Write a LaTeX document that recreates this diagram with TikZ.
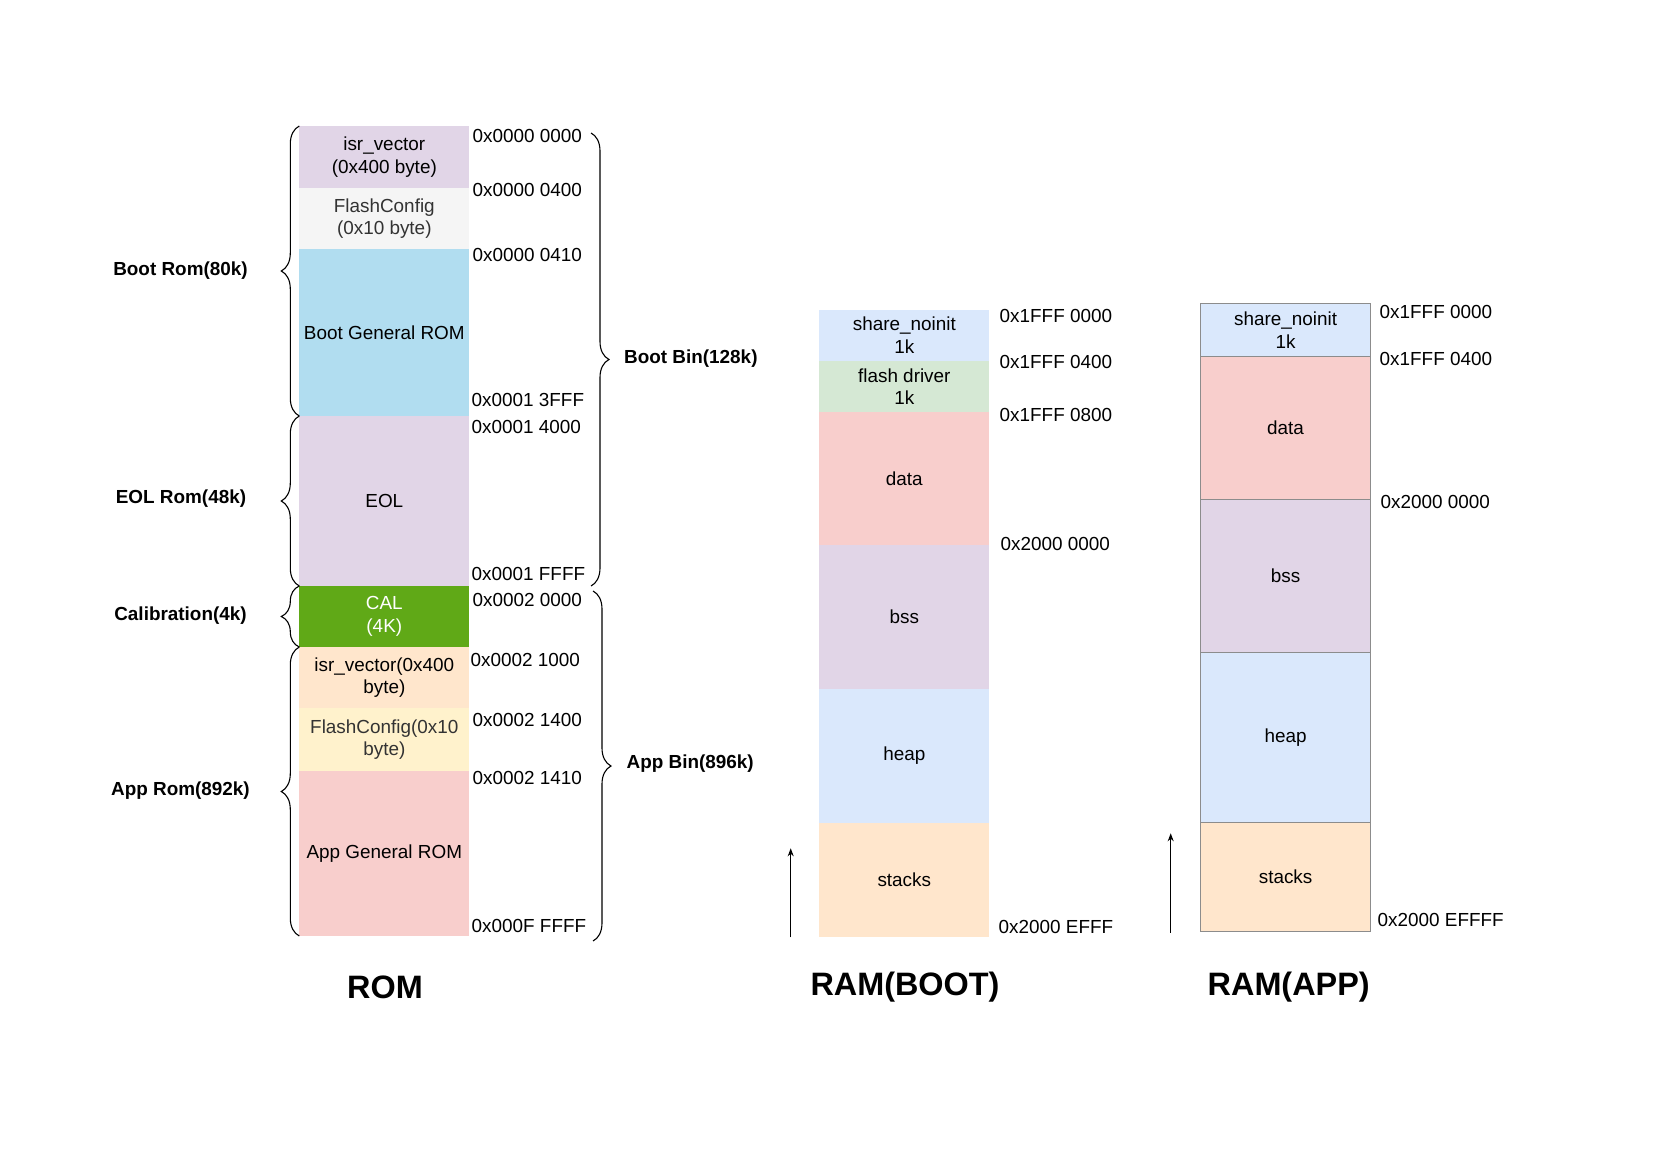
\documentclass[tikz,border=0pt]{standalone}
\usepackage{fontspec}
\setmainfont{Liberation Sans}
\usepackage{xcolor}
\definecolor{cPurple}{HTML}{E1D5E7}
\definecolor{cGray}{HTML}{F5F5F5}
\definecolor{cBlue}{HTML}{B1DDF0}
\definecolor{cGreen}{HTML}{60A917}
\definecolor{cOrange}{HTML}{FFE6CC}
\definecolor{cYellow}{HTML}{FFF2CC}
\definecolor{cRed}{HTML}{F8CECC}
\definecolor{cSky}{HTML}{DAE8FC}
\definecolor{cMint}{HTML}{D5E8D4}
\definecolor{cText}{HTML}{333333}
\usetikzlibrary{arrows.meta}
\usetikzlibrary{decorations.pathreplacing}

\begin{document}
\begin{tikzpicture}[x=1pt, y=-1pt,
	seg/.style={anchor=north, minimum width=170pt, inner sep=0pt, outer sep=0pt, align=center, font=\fontsize{18.9}{22.7}\selectfont},
	addr/.style={anchor=west, inner sep=0pt, font=\fontsize{18.9}{22.7}\selectfont},
	lbl/.style={inner sep=0pt, font=\fontsize{18.9}{22.7}\selectfont\bfseries},
	ttl/.style={inner sep=0pt, font=\fontsize{32.4}{38}\selectfont\bfseries},
	brc/.style={decorate, decoration={brace, amplitude=18pt}, line width=1.1pt},
	up/.style={-{Stealth[length=8pt, width=6pt]}, line width=1pt}]
	\useasboundingbox (0,0) rectangle (1654,1169);
	% ROM
	\node[seg, fill=cPurple, minimum height=62pt] (isrB) at (384.3,126) {isr\_vector\\(0x400 byte)};
	\node[seg, fill=cGray, text=cText, minimum height=61pt] (flashB) at (384.3,188) {FlashConfig\\(0x10 byte)};
	\node[seg, fill=cBlue, minimum height=167pt] (bootgen) at (384.3,249) {Boot General ROM};
	\node[seg, fill=cPurple, minimum height=170pt] (eol) at (384.3,416) {EOL};
	\node[seg, fill=cGreen, text=white, minimum height=61pt] (cal) at (384.3,586) {CAL\\(4K)};
	\node[seg, fill=cOrange, minimum height=61pt] (isrA) at (384.3,647) {isr\_vector(0x400\\byte)};
	\node[seg, fill=cYellow, text=cText, minimum height=63pt] (flashA) at (384.3,708) {FlashConfig(0x10\\byte)};
	\node[seg, fill=cRed, minimum height=165pt] (appgen) at (384.3,771) {App General ROM};
	\node[addr] (a0) at (472.5,136) {0x0000 0000};
	\node[addr] (a1) at (472.5,190) {0x0000 0400};
	\node[addr] (a2) at (472.5,255) {0x0000 0410};
	\node[addr] (a3) at (471.5,400) {0x0001 3FFF};
	\node[addr] (a4) at (471.5,427) {0x0001 4000};
	\node[addr] (a5) at (471.5,574) {0x0001 FFFF};
	\node[addr] (a6) at (472.5,600) {0x0002 0000};
	\node[addr] (a7) at (470.5,660) {0x0002 1000};
	\node[addr] (a8) at (472.5,720) {0x0002 1400};
	\node[addr] (a9) at (472.5,778) {0x0002 1410};
	\node[addr] (a10) at (471.5,926) {0x000F FFFF};
	\draw[brc] (bootgen.south west) -- (isrB.north west);
	\draw[brc] (eol.south west) -- (eol.north west);
	\draw[brc] (cal.south west) -- (cal.north west);
	\draw[brc] (appgen.south west) -- (isrA.north west);
	\node[lbl] (bootrom) at (180.5,271) {Boot Rom(80k)};
	\node[lbl] (eolrom) at (181,499) {EOL Rom(48k)};
	\node[lbl] (calrom) at (180.5,616) {Calibration(4k)};
	\node[lbl] (approm) at (180.5,791) {App Rom(892k)};
	\coordinate (bootbinT) at (591,133);
	\coordinate (bootbinB) at (591,586);
	\coordinate (appbinT) at (593,591);
	\coordinate (appbinB) at (593,941);
	\draw[brc] (bootbinT) -- (bootbinB);
	\draw[brc] (appbinT) -- (appbinB);
	\node[lbl, anchor=west] (bootbin) at (624,359) {Boot Bin(128k)};
	\node[lbl, anchor=west] (appbin) at (626.5,764) {App Bin(896k)};
	\node[ttl] (romttl) at (385,987) {ROM};
	% RAM(BOOT)
	\node[seg, fill=cSky, minimum height=51.8pt] (shareB) at (904.3,309.5) {share\_noinit\\1k};
	\node[seg, fill=cMint, minimum height=50.7pt] (fdrv) at (904.3,361.3) {flash driver\\1k};
	\node[seg, fill=cRed, minimum height=133pt] (dataB) at (904.3,412) {data};
	\node[seg, fill=cPurple, minimum height=144pt] (bssB) at (904.3,545) {bss};
	\node[seg, fill=cSky, minimum height=133.7pt] (heapB) at (904.3,689) {heap};
	\node[seg, fill=cOrange, minimum height=114pt] (stackB) at (904.3,822.7) {stacks};
	\node[addr] (b0) at (999.5,316) {0x1FFF 0000};
	\node[addr] (b1) at (999.5,362) {0x1FFF 0400};
	\node[addr] (b2) at (999.5,414.5) {0x1FFF 0800};
	\node[addr] (b3) at (1000.5,544) {0x2000 0000};
	\node[addr] (b4) at (998.5,927) {0x2000 EFFF};
	\coordinate (bootS0) at (790.7,937.3);
	\coordinate (bootS1) at (790.7,848.3);
	\draw[up] (bootS0) -- (bootS1);
	\node[ttl] (bootttl) at (905,987) {RAM(BOOT)};
	% RAM(APP)
	\begin{scope}[every node/.append style={draw=black!45, line width=1pt}]
	\node[seg, fill=cSky, minimum height=53.5pt] (shareA) at (1285.6,303.1) {share\_noinit\\1k};
	\node[seg, fill=cRed, minimum height=142.9pt] (dataA) at (1285.6,356.6) {data};
	\node[seg, fill=cPurple, minimum height=153.2pt] (bssA) at (1285.6,499.5) {bss};
	\node[seg, fill=cSky, minimum height=170pt] (heapA) at (1285.6,652.7) {heap};
	\node[seg, fill=cOrange, minimum height=108.3pt] (stackA) at (1285.6,822.7) {stacks};
	\end{scope}
	\node[addr] (c0) at (1379.5,312) {0x1FFF 0000};
	\node[addr] (c1) at (1379.5,358.5) {0x1FFF 0400};
	\node[addr] (c2) at (1380.5,502) {0x2000 0000};
	\node[addr] (c3) at (1377.5,920) {0x2000 EFFFF};
	\coordinate (appS0) at (1170.7,932.7);
	\coordinate (appS1) at (1170.7,833.3);
	\draw[up] (appS0) -- (appS1);
	\node[ttl] (appttl) at (1288.7,987) {RAM(APP)};
\end{tikzpicture}
\end{document}
